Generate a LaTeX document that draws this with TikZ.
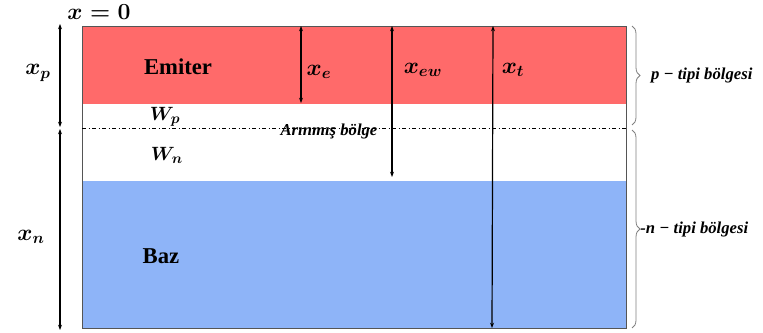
\documentclass[tikz,border=0pt]{standalone}
\usepackage{fontspec}
\setmainfont{Liberation Serif}
\usetikzlibrary{arrows.meta,decorations.pathreplacing}
\definecolor{emred}{HTML}{FF6A6A}
\definecolor{bazblue}{HTML}{8EB4F8}
\definecolor{framegray}{HTML}{555555}
\tikzset{
  dim/.style={{Stealth[length=4pt,width=3pt]}-{Stealth[length=4pt,width=3pt]}, line width=0.9pt},
  mathlbl/.style={font=\fontsize{18}{20}\selectfont\boldmath, inner sep=0pt},
  regionlbl/.style={font=\fontsize{17}{19}\selectfont\bfseries, inner sep=0pt},
  smalllbl/.style={font=\fontsize{12.5}{14}\selectfont\bfseries\itshape, inner sep=0pt},
  bracestyle/.style={draw=gray, line width=0.6pt, decorate, decoration={brace, amplitude=6pt}},
}
\begin{document}
\begin{tikzpicture}[x=0.75pt,y=-0.75pt]
\useasboundingbox (0,0) rectangle (763,332);
% regions of the device
\fill[emred] (82,26) rectangle (626,104);
\fill[bazblue] (82,181) rectangle (626,328);
\draw[framegray, line width=0.7pt] (82,26) rectangle (626,328);
\draw[black, line width=0.5pt, dash dot] (82,128) -- (626,128);

% dimension end points
\coordinate (top0) at (60,24);
\coordinate (mid0) at (60,127);
\coordinate (mid1) at (60,129);
\coordinate (bot0) at (60,330);
\coordinate (xe1) at (301,26);
\coordinate (xe2) at (301,103);
\coordinate (xew1) at (392,26);
\coordinate (xew2) at (392,177);
\coordinate (xt1) at (493,26);
\coordinate (xt2) at (492,328);

\draw[dim] (top0) -- (mid0);
\draw[dim] (mid1) -- (bot0);
\draw[dim] (xe1) -- (xe2);
\draw[dim] (xew1) -- (xew2);
\draw[dim] (xt1) -- (xt2);

% labels
\node[mathlbl] (x0) at (99,12) {$x=0$};
\node[mathlbl] (lxp) at (38,73) {$x_p$};
\node[mathlbl] (lxn) at (31,237) {$x_n$};
\node[mathlbl] (lxe) at (319,72) {$x_e$};
\node[mathlbl] (lxew) at (423,70) {$x_{ew}$};
\node[mathlbl] (lxt) at (513,70) {$x_t$};
\node[mathlbl, font=\fontsize{15}{17}\selectfont\boldmath] (lwp) at (165,117) {$W_p$};
\node[mathlbl, font=\fontsize{15}{17}\selectfont\boldmath] (lwn) at (167,155) {$W_n$};
\node[regionlbl] (em) at (178,67) {Emiter};
\node[regionlbl] (baz) at (161,256) {Baz};
\node[smalllbl] (ar) at (329,131) {Arınmış bölge};

% braces for the two regions
\draw[bracestyle] (632,26) -- (632,125) node[midway, right=14pt, smalllbl] (pt) {p − tipi bölgesi};
\draw[bracestyle] (632,130) -- (632,328) node[midway, right=6pt, smalllbl] (nt) {-n − tipi bölgesi};
\end{tikzpicture}
\end{document}
